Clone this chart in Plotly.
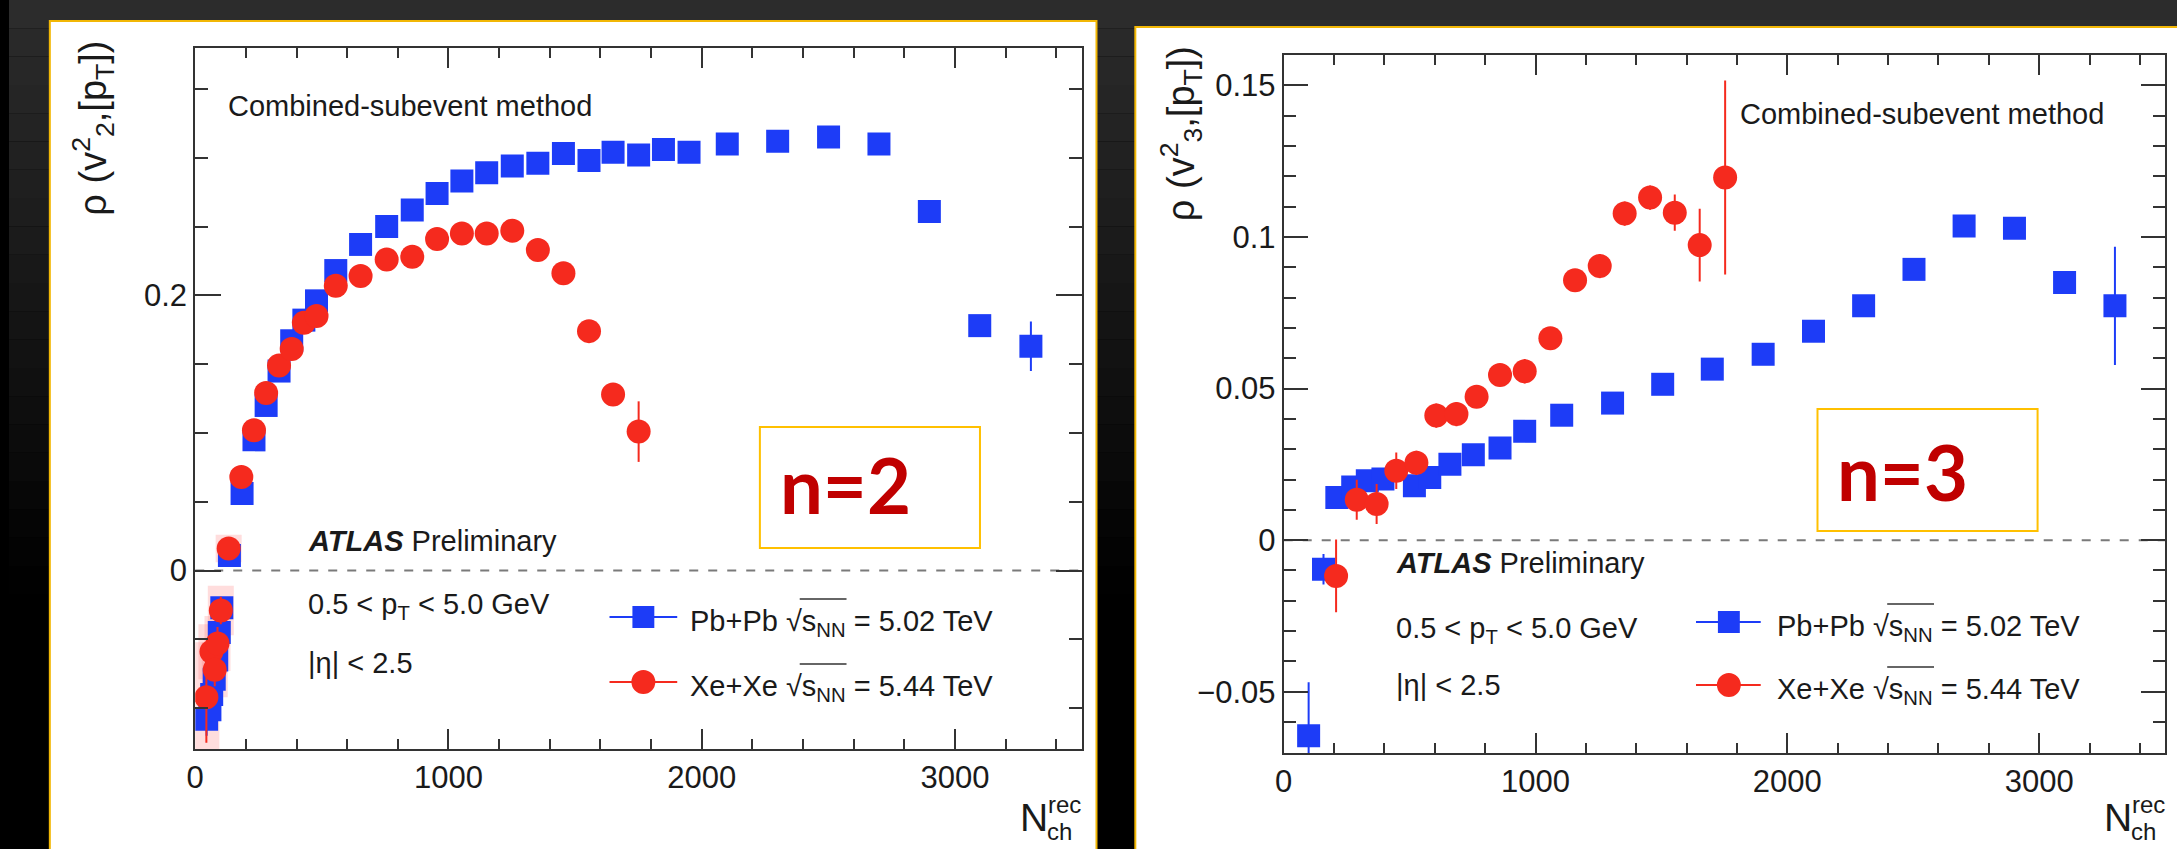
import plotly.graph_objects as go

W, H = 2177, 849

# ---------------- data: n = 2 ----------------
n2_pb_x = [45, 58, 65, 75, 85, 95, 105, 135, 185, 232, 280, 331, 381, 429, 479, 555, 653, 756, 857, 955,
           1053, 1151, 1252, 1353, 1454, 1555, 1650, 1751, 1849, 1950, 2101, 2300, 2501, 2700, 2899, 3098, 3300]
n2_pb_y = [-0.108, -0.101, -0.090, -0.079, -0.065, -0.045, -0.027, 0.011, 0.056, 0.095, 0.120, 0.145, 0.167,
           0.182, 0.196, 0.218, 0.237, 0.250, 0.262, 0.274, 0.283, 0.289, 0.294, 0.296, 0.303, 0.298, 0.304,
           0.302, 0.306, 0.304, 0.310, 0.312, 0.315, 0.310, 0.261, 0.178, 0.163]
n2_pb_e = [0.012, 0.010, 0.010, 0.009, 0.008, 0.008, 0.007, 0.004, 0.003, 0.003, 0.003, 0.003, 0.003,
           0.003, 0.003, 0.003, 0.003, 0.003, 0.003, 0.003, 0.003, 0.003, 0.003, 0.003, 0.003, 0.003, 0.003,
           0.003, 0.003, 0.003, 0.003, 0.003, 0.003, 0.003, 0.003, 0.004, 0.018]

n2_xe_x = [44, 64, 77, 88, 101, 132, 182, 232, 280, 331, 381, 429, 479, 555, 653, 756, 857, 955,
           1053, 1151, 1252, 1353, 1454, 1555, 1650, 1751]
n2_xe_y = [-0.092, -0.059, -0.072, -0.053, -0.029, 0.016, 0.068, 0.102, 0.129, 0.149, 0.161, 0.180, 0.185,
           0.207, 0.214, 0.226, 0.228, 0.241, 0.245, 0.245, 0.247, 0.233, 0.216, 0.174, 0.128, 0.101]
n2_xe_e = [0.033, 0.012, 0.012, 0.012, 0.010, 0.004, 0.003, 0.003, 0.003, 0.003, 0.003, 0.003, 0.003,
           0.003, 0.003, 0.003, 0.003, 0.003, 0.003, 0.003, 0.003, 0.003, 0.004, 0.005, 0.008, 0.022]
n2_xe_sys = [0.040, 0.020, 0.020, 0.020, 0.018, 0.010]

# ---------------- data: n = 3 ----------------
n3_pb_x = [99, 158, 211, 274, 332, 394, 519, 580, 660, 753, 859, 957, 1104, 1306, 1505, 1702, 1904, 2104,
           2303, 2503, 2702, 2902, 3101, 3301]
n3_pb_y = [-0.0645, -0.0096, 0.0141, 0.0175, 0.0196, 0.0202, 0.0179, 0.0207, 0.0250, 0.0282, 0.0304, 0.0359,
           0.0412, 0.0452, 0.0514, 0.0564, 0.0613, 0.0689, 0.0773, 0.0893, 0.1036, 0.1029, 0.0850, 0.0773]
n3_pb_e = [0.0176, 0.0050, 0.0020, 0.0020, 0.0020, 0.0020, 0.0020, 0.0020, 0.0020, 0.0020, 0.0020, 0.0020,
           0.0020, 0.0020, 0.0020, 0.0020, 0.0020, 0.0020, 0.0020, 0.0020, 0.0020, 0.0020, 0.0030, 0.0195]

n3_xe_x = [208, 290, 369, 447, 527, 606, 686, 766, 859, 957, 1059, 1157, 1255, 1354, 1455, 1553, 1652, 1753]
n3_xe_y = [-0.0118, 0.0133, 0.0119, 0.0229, 0.0255, 0.0411, 0.0416, 0.0473, 0.0545, 0.0557, 0.0666, 0.0857,
           0.0904, 0.1077, 0.1130, 0.1080, 0.0973, 0.1196]
n3_xe_e = [0.0120, 0.0066, 0.0066, 0.0060, 0.0040, 0.0040, 0.0040, 0.0030, 0.0030, 0.0040, 0.0030, 0.0030,
           0.0040, 0.0040, 0.0040, 0.0060, 0.0120, 0.0320]

x_ticks = [0, 1000, 2000, 3000]

BLUE = "#1d3cf7"
RED = "#f52a1e"
TXT = "#1a1a1a"
FONT = "Liberation Sans"


def X(px):
    return px / W


def Y(py):
    return 1 - py / H


fig = go.Figure()

# systematic boxes (Xe+Xe, low multiplicity)
fig.add_trace(go.Scatter(
    x=n2_xe_x[:len(n2_xe_sys)], y=n2_xe_y[:len(n2_xe_sys)], mode="markers",
    marker=dict(size=1, color="rgba(0,0,0,0)"),
    error_y=dict(type="data", array=n2_xe_sys, thickness=26, width=0, color="rgba(255,120,120,0.25)"),
    xaxis="x", yaxis="y", showlegend=False, hoverinfo="skip"))

def add_series(x, y, e, color, symbol, size, xa, ya):
    fig.add_trace(go.Scatter(
        x=x, y=y, mode="markers", xaxis=xa, yaxis=ya, showlegend=False,
        marker=dict(symbol=symbol, size=size, color=color, line=dict(width=0)),
        error_y=dict(type="data", array=e, thickness=2, width=0, color=color)))

add_series(n2_pb_x, n2_pb_y, n2_pb_e, BLUE, "square", 23, "x", "y")
add_series(n2_xe_x, n2_xe_y, n2_xe_e, RED, "circle", 24, "x", "y")
add_series(n3_pb_x, n3_pb_y, n3_pb_e, BLUE, "square", 23, "x2", "y2")
add_series(n3_xe_x, n3_xe_y, n3_xe_e, RED, "circle", 24, "x2", "y2")

# ---------------- axes ----------------
def xaxis_cfg(domain, anchor):
    return dict(domain=domain, anchor=anchor, range=[0, 3500], tickvals=x_ticks,
                ticks="inside", ticklen=20, tickwidth=2, tickcolor="#333",
                minor=dict(dtick=200, tick0=0, ticks="inside", ticklen=10, tickwidth=2, tickcolor="#333"),
                showline=True, linecolor="#333", linewidth=2, mirror="ticks",
                showgrid=False, zeroline=False,
                tickfont=dict(family=FONT, size=31, color=TXT))

def yaxis_cfg(domain, anchor, rng, dtick, mdtick, tlen, mlen):
    return dict(domain=domain, anchor=anchor, range=rng, dtick=dtick, tick0=0,
                ticks="inside", ticklen=tlen, tickwidth=2, tickcolor="#333",
                minor=dict(dtick=mdtick, tick0=0, ticks="inside", ticklen=mlen, tickwidth=2, tickcolor="#333"),
                showline=True, linecolor="#333", linewidth=2, mirror="ticks",
                showgrid=False, zeroline=False,
                tickfont=dict(family=FONT, size=31, color=TXT))

fig.update_layout(
    width=W, height=H, margin=dict(l=0, r=0, t=0, b=0),
    paper_bgcolor="#000000", plot_bgcolor="rgba(0,0,0,0)", showlegend=False,
    xaxis=xaxis_cfg([X(187), X(1077)], "y"),
    yaxis=yaxis_cfg([Y(749), Y(47.6)], "x", [-0.1296, 0.380], 0.2, 0.05, 26, 13),
    xaxis2=xaxis_cfg([X(1280), X(2165)], "y2"),
    yaxis2=yaxis_cfg([Y(753), Y(55)], "x2", [-0.0702, 0.160], 0.05, 0.01, 24, 12),
)

shapes = []
# dark gradient background
nb = 30
for i in range(nb):
    t = i / (nb - 1)
    c = int(44 * max(0.0, 1 - t * 1.4))
    shapes.append(dict(type="rect", xref="paper", yref="paper", x0=0, x1=1,
                       y0=1 - (i + 1) / nb, y1=1 - i / nb, line=dict(width=0),
                       fillcolor=f"rgb({c},{c},{c})", layer="below"))
# white panels with orange borders
for (x0, x1, y0) in [(41, 1092, 21), (1131, 2190, 27)]:
    shapes.append(dict(type="rect", xref="paper", yref="paper", x0=X(x0), x1=X(x1), y0=-0.02, y1=Y(y0),
                       fillcolor="white", line=dict(color="#f2b705", width=2), layer="below"))
# zero dashed lines
for xa, ya in [("x", "y"), ("x2", "y2")]:
    shapes.append(dict(type="line", xref=f"{xa} domain", yref=ya, x0=0, x1=1, y0=0, y1=0,
                       line=dict(color="#7a7a7a", width=2, dash="9px,10px"), layer="below"))
# n=2 / n=3 boxes
for (x0, x1, y0, y1) in [(754, 975, 427, 548), (1816, 2037, 409, 531)]:
    shapes.append(dict(type="rect", xref="paper", yref="paper", x0=X(x0), x1=X(x1), y0=Y(y1), y1=Y(y0),
                       fillcolor="white", line=dict(color="#ffc000", width=2)))
# legend lines and markers (drawn manually)
for (lx0, lx1, mx, ry1, ry2, ox0, ox1) in [(603, 671, 637, 617, 682, 794, 841),
                                           (1694, 1759, 1727, 622, 685, 1886, 1933)]:
    for ry, col in [(ry1, BLUE), (ry2, RED)]:
        shapes.append(dict(type="line", xref="paper", yref="paper", x0=X(lx0), x1=X(lx1), y0=Y(ry), y1=Y(ry),
                           line=dict(color=col, width=2)))
        # overline of the square root
        shapes.append(dict(type="line", xref="paper", yref="paper", x0=X(ox0), x1=X(ox1),
                           y0=Y(ry - 18), y1=Y(ry - 18), line=dict(color="#333", width=1.5)))
    shapes.append(dict(type="rect", xref="paper", yref="paper", x0=X(mx - 11), x1=X(mx + 11),
                       y0=Y(ry1 + 11), y1=Y(ry1 - 11), fillcolor=BLUE, line=dict(width=0)))
    shapes.append(dict(type="circle", xref="paper", yref="paper", x0=X(mx - 12), x1=X(mx + 12),
                       y0=Y(ry2 + 12), y1=Y(ry2 - 12), fillcolor=RED, line=dict(width=0)))
fig.update_layout(shapes=shapes)

ann = []
def text(px, py, s, size=29, anchor="left", color=TXT, family=FONT, angle=0):
    ann.append(dict(x=X(px), y=Y(py), xref="paper", yref="paper", text=s, showarrow=False,
                    xanchor=anchor, yanchor="middle", textangle=angle,
                    font=dict(family=family, size=size, color=color)))

for (cx, cy, ax, ay, pty, ety, lx, l1, l2, nx, ny, ntxt, ytx, yty, ylab, Nx) in [
        (218, 106, 298, 541, 600, 663, 682, 617, 682, 840, 484, "n=2", 84, 128, "2", 1013),
        (1736, 114, 1391, 563, 624, 685, 1773, 622, 685, 1901, 472, "n=3", 1177, 134, "3", 2102)]:
    text(cx, cy, "Combined-subevent method")
    text(ax, ay, "<b><i>ATLAS</i></b> Preliminary")
    text(ax, pty + 6, "0.5 &lt; p<sub>T</sub> &lt; 5.0 GeV")
    text(ax, ety, "|η| &lt; 2.5")
    text(lx, l1 + 6, "Pb+Pb √s<sub>NN</sub> = 5.02 TeV")
    text(lx, l2 + 6, "Xe+Xe √s<sub>NN</sub> = 5.44 TeV")
    text(nx, ny, "<b>" + ntxt + "</b>", size=76, anchor="center", color="#c00000", family="Lato")
    text(ytx, yty, "ρ (v<sup>2</sup><sub>" + ylab + "</sub>,[p<sub>T</sub>])", size=38, anchor="center", angle=-90)
    text(Nx, 817, "N", size=39)
    text(Nx + 28, 804, "rec", size=24)
    text(Nx + 27, 831, "ch", size=24)

fig.update_layout(annotations=ann)
fig.write_html("out.html")
